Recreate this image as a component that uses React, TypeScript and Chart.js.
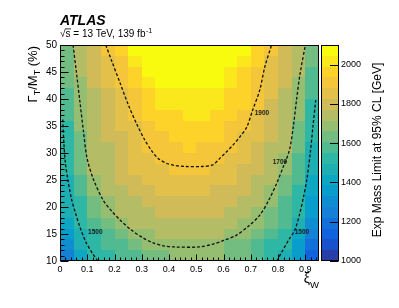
import { useEffect, useRef } from "react";
import { Chart, registerables } from "chart.js";

Chart.register(...registerables);

const FONT = "'Liberation Sans', Arial, Helvetica, sans-serif";

// ---- binning (xi_W columns, Gamma_T/M_T rows in %) ----
const xBinEdges = [0, 0.05, 0.1, 0.15, 0.2, 0.25, 0.3, 0.35, 0.4, 0.45, 0.5, 0.55, 0.6, 0.65, 0.7, 0.75, 0.8, 0.85, 0.9, 0.95];
const yBinEdges = [10, 12, 14, 16, 18, 20, 22, 24, 26, 28, 30, 32, 34, 36, 38, 40, 42, 44, 46, 48, 50];

// ---- expected mass limit [GeV], one row per Gamma/M bin (bottom -> top) ----
const limitG11 = [1250, 1420, 1495, 1530, 1565, 1600, 1630, 1655, 1672, 1680, 1677, 1665, 1645, 1610, 1570, 1530, 1470, 1330, 1160];
const limitG13 = [1320, 1477, 1515, 1553, 1591, 1628, 1666, 1701, 1706, 1708, 1705, 1689, 1652, 1615, 1578, 1541, 1504, 1376, 1210];
const limitG15 = [1380, 1490, 1540, 1590, 1640, 1690, 1714, 1726, 1733, 1735, 1732, 1723, 1709, 1676, 1627, 1578, 1529, 1437, 1260];
const limitG17 = [1420, 1506, 1567, 1627, 1688, 1719, 1737, 1750, 1758, 1760, 1757, 1747, 1733, 1712, 1670, 1611, 1551, 1477, 1312];
const limitG19 = [1442, 1525, 1608, 1692, 1726, 1749, 1768, 1780, 1788, 1790, 1786, 1776, 1760, 1738, 1710, 1650, 1579, 1507, 1346];
const limitG21 = [1455, 1545, 1636, 1711, 1743, 1769, 1790, 1804, 1813, 1815, 1811, 1800, 1783, 1759, 1729, 1684, 1604, 1524, 1378];
const limitG23 = [1476, 1569, 1663, 1725, 1760, 1790, 1812, 1828, 1837, 1840, 1836, 1824, 1806, 1781, 1748, 1709, 1630, 1543, 1408];
const limitG25 = [1492, 1591, 1690, 1741, 1779, 1811, 1835, 1852, 1862, 1865, 1860, 1848, 1829, 1801, 1766, 1724, 1652, 1557, 1429];
const limitG27 = [1498, 1620, 1718, 1765, 1804, 1836, 1861, 1879, 1889, 1892, 1887, 1874, 1853, 1824, 1787, 1742, 1679, 1574, 1448];
const limitG29 = [1505, 1637, 1720, 1758, 1797, 1835, 1873, 1904, 1912, 1915, 1912, 1905, 1878, 1835, 1791, 1748, 1704, 1594, 1466];
const limitG31 = [1513, 1647, 1725, 1767, 1808, 1850, 1892, 1918, 1931, 1935, 1931, 1919, 1900, 1855, 1809, 1764, 1718, 1620, 1483];
const limitG33 = [1524, 1659, 1731, 1775, 1818, 1862, 1905, 1933, 1950, 1955, 1950, 1936, 1914, 1875, 1826, 1776, 1727, 1637, 1500];
const limitG35 = [1533, 1672, 1737, 1784, 1830, 1877, 1920, 1952, 1970, 1975, 1970, 1955, 1932, 1900, 1845, 1791, 1736, 1653, 1514];
const limitG37 = [1550, 1688, 1744, 1793, 1841, 1890, 1937, 1970, 1989, 1995, 1990, 1975, 1952, 1920, 1870, 1809, 1748, 1669, 1530];
const limitG39 = [1583, 1700, 1752, 1804, 1855, 1908, 1956, 1990, 2009, 2015, 2009, 1994, 1969, 1935, 1887, 1823, 1758, 1686, 1549];
const limitG41 = [1597, 1706, 1761, 1817, 1872, 1929, 1976, 2010, 2029, 2035, 2029, 2012, 1985, 1948, 1900, 1834, 1768, 1701, 1564];
const limitG43 = [1608, 1712, 1771, 1831, 1890, 1950, 2000, 2050, 2058, 2060, 2058, 2048, 2004, 1966, 1917, 1850, 1779, 1707, 1581];
const limitG45 = [1618, 1719, 1784, 1848, 1913, 1971, 2046, 2062, 2070, 2075, 2070, 2060, 2030, 1979, 1929, 1863, 1789, 1715, 1595];
const limitG47 = [1629, 1728, 1797, 1866, 1933, 1995, 2047, 2065, 2080, 2085, 2080, 2066, 2047, 2000, 1942, 1877, 1800, 1723, 1610];
const limitG49 = [1640, 1738, 1815, 1892, 1960, 2048, 2068, 2085, 2095, 2100, 2095, 2085, 2068, 2046, 1960, 1892, 1812, 1732, 1624];

const limitRows = [
  limitG11, limitG13, limitG15, limitG17, limitG19, limitG21, limitG23, limitG25, limitG27, limitG29,
  limitG31, limitG33, limitG35, limitG37, limitG39, limitG41, limitG43, limitG45, limitG47, limitG49,
];

// ---- contour lines ----
const contour1500Left = [
  { x: 0.01, y: 36.2 }, { x: 0.014, y: 32 }, { x: 0.02, y: 28 }, { x: 0.029, y: 25 }, { x: 0.042, y: 21.5 },
  { x: 0.056, y: 19 }, { x: 0.073, y: 16.3 }, { x: 0.095, y: 13.5 }, { x: 0.118, y: 11.5 }, { x: 0.139, y: 10 },
];
const contour1500Right = [
  { x: 0.795, y: 10 }, { x: 0.815, y: 11.8 }, { x: 0.84, y: 14 }, { x: 0.861, y: 15.7 }, { x: 0.878, y: 18.5 },
  { x: 0.893, y: 21.8 }, { x: 0.905, y: 25 }, { x: 0.918, y: 30 }, { x: 0.928, y: 35 }, { x: 0.938, y: 39.8 },
];
const contour1700 = [
  { x: 0.048, y: 50 }, { x: 0.06, y: 45 }, { x: 0.073, y: 39.5 }, { x: 0.086, y: 34 }, { x: 0.099, y: 29.1 },
  { x: 0.122, y: 25.2 }, { x: 0.158, y: 21.3 }, { x: 0.19, y: 19.2 }, { x: 0.22, y: 17.6 }, { x: 0.26, y: 15.8 },
  { x: 0.304, y: 14.3 }, { x: 0.34, y: 13.4 }, { x: 0.38, y: 12.8 }, { x: 0.42, y: 12.6 }, { x: 0.51, y: 12.6 },
  { x: 0.56, y: 13.1 }, { x: 0.6, y: 13.8 }, { x: 0.648, y: 14.8 }, { x: 0.69, y: 16.4 }, { x: 0.733, y: 18.5 },
  { x: 0.765, y: 21.2 }, { x: 0.795, y: 24.4 }, { x: 0.82, y: 27.6 }, { x: 0.842, y: 30.6 }, { x: 0.856, y: 35 },
  { x: 0.868, y: 40 }, { x: 0.88, y: 44.5 }, { x: 0.9, y: 50 },
];
const contour1900 = [
  { x: 0.168, y: 50 }, { x: 0.19, y: 47 }, { x: 0.22, y: 43 }, { x: 0.25, y: 39 }, { x: 0.28, y: 35.5 },
  { x: 0.31, y: 32.5 }, { x: 0.335, y: 30.5 }, { x: 0.36, y: 29 }, { x: 0.39, y: 28.1 }, { x: 0.42, y: 27.7 },
  { x: 0.46, y: 27.5 }, { x: 0.52, y: 27.5 }, { x: 0.56, y: 27.8 }, { x: 0.586, y: 29 }, { x: 0.61, y: 30.2 },
  { x: 0.635, y: 31.5 }, { x: 0.66, y: 33 }, { x: 0.685, y: 34.8 }, { x: 0.707, y: 38 }, { x: 0.733, y: 41.7 },
  { x: 0.751, y: 45.9 }, { x: 0.776, y: 50 },
];
const contourLabelText = ["1900", "1700", "1500", "1500"];
const contourLabelX = [0.714, 0.78, 0.103, 0.861];
const contourLabelY = [37.4, 28.3, 15.4, 15.4];

// ---- axis ticks ----
const xTickValues = [0, 0.1, 0.2, 0.3, 0.4, 0.5, 0.6, 0.7, 0.8, 0.9];
const yTickValues = [10, 15, 20, 25, 30, 35, 40, 45, 50];
const zTickValues = [1000, 1200, 1400, 1600, 1800, 2000];

const zMin = 1000;
const zMax = 2100;
const nLevels = 20;

// ROOT kBird palette
const birdStops = [0, 0.125, 0.25, 0.375, 0.5, 0.625, 0.75, 0.875, 1];
const birdR = [0.2082, 0.0592, 0.078, 0.0232, 0.1802, 0.5301, 0.8186, 0.9956, 0.9764];
const birdG = [0.1664, 0.3599, 0.5041, 0.6419, 0.7178, 0.7492, 0.7328, 0.7862, 0.9832];
const birdB = [0.5293, 0.8684, 0.8385, 0.7914, 0.6425, 0.4662, 0.3499, 0.1968, 0.0539];

function bird(t: number): string {
  const tt = Math.max(0, Math.min(1, t));
  let k = 0;
  while (k < birdStops.length - 2 && tt > birdStops[k + 1]) k++;
  const f = (tt - birdStops[k]) / (birdStops[k + 1] - birdStops[k]);
  const c = (a: number[]) => Math.round(255 * (a[k] + f * (a[k + 1] - a[k])));
  return `rgb(${c(birdR)},${c(birdG)},${c(birdB)})`;
}
function bandColor(i: number): string {
  const idx = Math.floor(((i + 0.99) * 255) / nLevels);
  return bird(idx / 254);
}
function levelOf(z: number): number {
  const i = Math.floor(((z - zMin) / (zMax - zMin)) * nLevels + 1e-6);
  return Math.max(0, Math.min(nLevels - 1, i));
}

type Part = { t: string; size: number; dy?: number; style?: string };
function drawParts(ctx: CanvasRenderingContext2D, parts: Part[], x: number, y: number, angle: number, align: string) {
  ctx.save();
  ctx.translate(x, y);
  ctx.rotate(angle);
  ctx.textBaseline = "alphabetic";
  ctx.textAlign = "left";
  ctx.fillStyle = "#000";
  const widths = parts.map((p) => {
    ctx.font = `${p.style ?? ""} ${p.size}px ${FONT}`;
    return ctx.measureText(p.t).width;
  });
  const total = widths.reduce((a, b) => a + b, 0);
  let cx = align === "right" ? -total : align === "center" ? -total / 2 : 0;
  parts.forEach((p, i) => {
    ctx.font = `${p.style ?? ""} ${p.size}px ${FONT}`;
    ctx.fillText(p.t, cx, p.dy ?? 0);
    cx += widths[i];
  });
  ctx.restore();
}

const CBAR_LEFT = 321;
const CBAR_RIGHT = 339;

const heatmapPlugin = {
  id: "heatmap",
  beforeDatasetsDraw(chart: any) {
    const { ctx, scales } = chart;
    const xs = scales.x;
    const ys = scales.y;
    const zs = scales.z;
    ctx.save();
    limitRows.forEach((row: number[], j: number) => {
      const yt = Math.round(ys.getPixelForValue(yBinEdges[j + 1]));
      const yb = Math.round(ys.getPixelForValue(yBinEdges[j]));
      row.forEach((v: number, i: number) => {
        const xl = Math.round(xs.getPixelForValue(xBinEdges[i]));
        const xr = Math.round(xs.getPixelForValue(xBinEdges[i + 1]));
        ctx.fillStyle = bandColor(levelOf(v));
        ctx.fillRect(xl, yt, xr - xl, yb - yt);
      });
    });
    // colour bar
    const step = (zMax - zMin) / nLevels;
    for (let i = 0; i < nLevels; i++) {
      const yb = Math.round(zs.getPixelForValue(zMin + i * step));
      const yt = Math.round(zs.getPixelForValue(zMin + (i + 1) * step));
      ctx.fillStyle = bandColor(i);
      ctx.fillRect(CBAR_LEFT, yt, CBAR_RIGHT - CBAR_LEFT, yb - yt);
    }
    ctx.restore();
  },
  afterDatasetsDraw(chart: any) {
    const { ctx, scales, chartArea } = chart;
    const xs = scales.x;
    const ys = scales.y;
    const zs = scales.z;
    ctx.save();
    // contour labels
    ctx.fillStyle = "#1a1a1a";
    ctx.font = `bold 6.5px ${FONT}`;
    ctx.textBaseline = "middle";
    ctx.textAlign = "left";
    contourLabelText.forEach((t, i) => {
      ctx.fillText(t, xs.getPixelForValue(contourLabelX[i]), ys.getPixelForValue(contourLabelY[i]));
    });
    // ticks
    ctx.strokeStyle = "#000";
    ctx.lineWidth = 1;
    const L = Math.round(chartArea.left) + 0.5;
    const R = Math.round(chartArea.right) - 0.5;
    const T = Math.round(chartArea.top) + 0.5;
    const B = Math.round(chartArea.bottom) - 0.5;
    ctx.beginPath();
    for (let k = 0; k <= 47; k++) {
      const v = k * 0.02;
      const px = Math.round(xs.getPixelForValue(v)) + 0.5;
      const major = k % 5 === 0;
      const len = major ? 6 : 3;
      ctx.moveTo(px, B);
      ctx.lineTo(px, B - len);
    }
    for (let k = 10; k <= 50; k++) {
      const py = Math.round(ys.getPixelForValue(k)) + 0.5;
      const len = k % 5 === 0 ? 8 : 4;
      ctx.moveTo(L, py);
      ctx.lineTo(L + len, py);
    }
    ctx.stroke();
    // frame
    ctx.strokeRect(L, T, R - L, B - T);
    // colour bar frame & ticks
    ctx.strokeRect(CBAR_LEFT + 0.5, T, CBAR_RIGHT - CBAR_LEFT - 1, B - T);
    ctx.beginPath();
    zTickValues.forEach((v) => {
      const py = Math.round(zs.getPixelForValue(v)) + 0.5;
      ctx.moveTo(CBAR_RIGHT - 0.5, py);
      ctx.lineTo(CBAR_RIGHT - 9, py);
    });
    ctx.stroke();
    ctx.restore();
  },
  afterDraw(chart: any) {
    const ctx: CanvasRenderingContext2D = chart.ctx;
    ctx.save();
    // ATLAS label
    ctx.fillStyle = "#000";
    ctx.textBaseline = "alphabetic";
    ctx.textAlign = "left";
    ctx.font = `italic bold 14px ${FONT}`;
    ctx.fillText("ATLAS", 60, 25);
    // sqrt(s) line
    ctx.font = `10px ${FONT}`;
    const rad = "√";
    const wRad = ctx.measureText(rad).width;
    ctx.fillText(rad, 60, 37);
    const wS = ctx.measureText("s").width;
    ctx.fillText("s", 60 + wRad, 37);
    ctx.fillRect(60 + wRad - 0.5, 28.5, wS + 1, 0.8);
    const rest = " = 13 TeV, 139 fb";
    ctx.fillText(rest, 60 + wRad + wS, 37);
    const wRest = ctx.measureText(rest).width;
    ctx.font = `7px ${FONT}`;
    ctx.fillText("-1", 60 + wRad + wS + wRest + 0.5, 33);
    ctx.restore();

    // axis titles
    drawParts(
      ctx,
      [
        { t: "Γ", size: 13 },
        { t: "T", size: 9, dy: 3 },
        { t: "/M", size: 13 },
        { t: "T", size: 9, dy: 3 },
        { t: " (%)", size: 13 },
      ],
      37,
      46,
      -Math.PI / 2,
      "right"
    );
    drawParts(ctx, [{ t: "ξ", size: 14 }, { t: "W", size: 9.5, dy: 5 }], 319, 283, 0, "right");
    drawParts(ctx, [{ t: "Exp Mass Limit at 95% CL [GeV]", size: 12 }], 381, 150, -Math.PI / 2, "center");
  },
};

const lineStyle = {
  showLine: true,
  borderColor: "#111",
  borderWidth: 1.3,
  borderDash: [3, 2],
  pointRadius: 0,
  fill: false,
  tension: 0.3,
};

export default function App() {
  const canvasRef = useRef<HTMLCanvasElement | null>(null);
  useEffect(() => {
    const canvas = canvasRef.current;
    if (!canvas) return;
    const chart = new Chart(canvas, {
      type: "scatter",
      data: {
        datasets: [
          { ...lineStyle, data: contour1500Left },
          { ...lineStyle, data: contour1500Right },
          { ...lineStyle, data: contour1700 },
          { ...lineStyle, data: contour1900 },
        ] as any,
      },
      options: {
        responsive: false,
        animation: false,
        devicePixelRatio: 1,
        layout: { padding: { top: 45, left: 0, right: 0, bottom: 0 } },
        plugins: { legend: { display: false }, tooltip: { enabled: false } },
        scales: {
          x: {
            type: "linear",
            min: 0,
            max: 0.95,
            afterBuildTicks: (s: any) => {
              s.ticks = xTickValues.map((v) => ({ value: v }));
            },
            afterFit: (s: any) => {
              s.height = 47;
            },
            grid: { display: false, drawTicks: false },
            border: { display: false },
            ticks: {
              color: "#000",
              font: { family: FONT, size: 9 },
              padding: 3,
              maxRotation: 0,
              autoSkip: false,
              callback: (v: any) => (v === 0 ? "0" : Number(v).toFixed(1)),
            },
          },
          y: {
            type: "linear",
            min: 10,
            max: 50,
            afterBuildTicks: (s: any) => {
              s.ticks = yTickValues.map((v) => ({ value: v }));
            },
            afterFit: (s: any) => {
              s.width = 60;
            },
            grid: { display: false, drawTicks: false },
            border: { display: false },
            ticks: {
              color: "#000",
              font: { family: FONT, size: 10 },
              padding: 3,
              autoSkip: false,
              callback: (v: any) => String(v),
            },
          },
          z: {
            type: "linear",
            position: "right",
            axis: "y",
            min: zMin,
            max: zMax,
            afterBuildTicks: (s: any) => {
              s.ticks = zTickValues.map((v) => ({ value: v }));
            },
            afterFit: (s: any) => {
              s.width = 80;
            },
            grid: { display: false, drawTicks: false },
            border: { display: false },
            ticks: {
              color: "#000",
              font: { family: FONT, size: 9 },
              padding: 22,
              autoSkip: false,
              callback: (v: any) => String(v),
            },
          },
        } as any,
      },
      plugins: [heatmapPlugin],
    });
    return () => chart.destroy();
  }, []);
  return (
    <div style={{ position: "fixed", left: 0, top: 0, width: 399, height: 308, background: "#fff" }}>
      <canvas ref={canvasRef} width={399} height={308} />
    </div>
  );
}
